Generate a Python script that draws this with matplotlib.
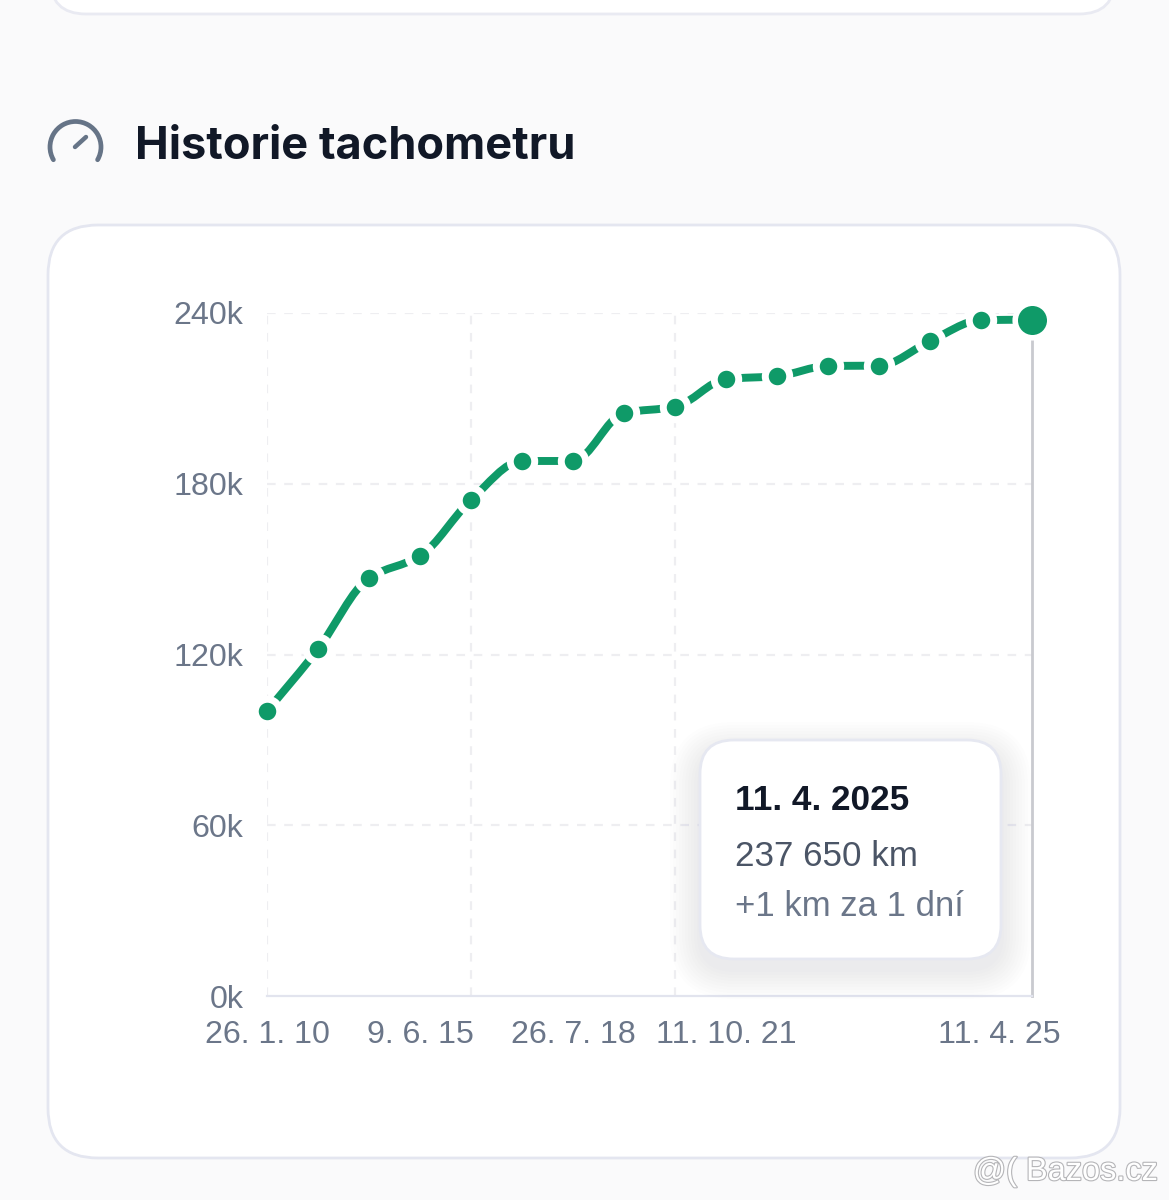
import matplotlib
matplotlib.use("Agg")
import matplotlib.pyplot as plt
import matplotlib.patheffects as pe
from matplotlib.patches import FancyBboxPatch, PathPatch, Arc
from matplotlib.path import Path
from matplotlib.transforms import ScaledTranslation
import numpy as np

# odometer readings in thousands of km
km = [100.1, 121.9, 146.9, 154.6, 174.3, 188.0, 188.0, 204.9, 207.0,
      216.8, 217.8, 221.4, 221.5, 230.1, 237.5, 237.65]
xlabels = ["26. 1. 10", "9. 6. 15", "26. 7. 18", "11. 10. 21", "11. 4. 25"]
xlabel_pos = [0, 3, 6, 9, 15]
xgrid = [0, 4, 8]
yticks = [0, 60, 120, 180, 240]
ylabels = ["0k", "60k", "120k", "180k", "240k"]

W, H = 1169, 1200
GREEN = "#0f9a68"
GREY = "#6b7689"
NAVY = "#111827"
SANS = "Liberation Sans"

plt.rcParams["lines.scale_dashes"] = False


def monotone_path(xs, ys):
    # same curve the web chart uses (monotone cubic between the readings)
    xs = np.asarray(xs, float)
    ys = np.asarray(ys, float)
    s = np.diff(ys) / np.diff(xs)
    t = np.zeros(len(ys))
    for i in range(1, len(ys) - 1):
        if s[i - 1] * s[i] > 0:
            t[i] = 2 * s[i - 1] * s[i] / (s[i - 1] + s[i])
    t[0] = s[0]
    t[-1] = s[-1]
    verts = [(xs[0], ys[0])]
    codes = [Path.MOVETO]
    for i in range(len(xs) - 1):
        h = (xs[i + 1] - xs[i]) / 3
        verts += [(xs[i] + h, ys[i] + t[i] * h),
                  (xs[i + 1] - h, ys[i + 1] - t[i + 1] * h),
                  (xs[i + 1], ys[i + 1])]
        codes += [Path.CURVE4, Path.CURVE4, Path.CURVE4]
    return Path(verts, codes)


fig = plt.figure(figsize=(W / 100, H / 100), dpi=100, facecolor="#fafafb")

# page layer in pixel coordinates, y going down
bg = fig.add_axes([0, 0, 1, 1], zorder=0)
bg.set_xlim(0, W)
bg.set_ylim(H, 0)
bg.axis("off")

bg.add_patch(FancyBboxPatch((50, -100), 1065, 114, boxstyle="round,pad=0,rounding_size=36",
                            fc="white", ec="#e9eaf2", lw=2))
bg.add_patch(FancyBboxPatch((48, 225), 1072, 933, boxstyle="round,pad=0,rounding_size=50",
                            fc="white", ec="#e4e6f0", lw=2))

# gauge icon, y axis is flipped so 270 is the top of the circle
bg.add_patch(Arc((75.5, 147), 51, 51, theta1=150, theta2=390, color="#667487",
                 lw=3.4, capstyle="round"))
bg.plot([75, 86], [147, 137], color="#667487", lw=3.2, solid_capstyle="round")

bg.text(135, 147, "Historie tachometru", fontsize=32.5, fontweight="bold", family="Inter",
        color=NAVY, va="center", ha="left")

# chart
ax = fig.add_axes([267 / W, (H - 996) / H, (1032 - 267) / W, (996 - 313) / H], zorder=1)
ax.patch.set_alpha(0)
x = np.arange(len(km))
ax.set_xlim(0, len(km) - 1)
ax.set_ylim(0, 240)
for s in ["top", "right", "left"]:
    ax.spines[s].set_visible(False)
ax.spines["bottom"].set_color("#e2e4ee")
ax.spines["bottom"].set_linewidth(1.6)

dash = (0, (6.2, 6.2))
ax.grid(False)
for v in yticks[1:]:
    ax.axhline(v, color="#eeeef1", lw=1.6, linestyle=dash, zorder=1)
for v in xgrid:
    ax.axvline(v, color="#eeeef1", lw=1.6, linestyle=dash, zorder=1)

ax.set_yticks(yticks)
ax.set_yticklabels(ylabels, fontsize=23.1, family=SANS, color=GREY)
ax.set_xticks(xlabel_pos)
ax.set_xticklabels(xlabels, fontsize=23.1, family=SANS, color=GREY)
ax.tick_params(axis="both", length=0)
ax.tick_params(axis="y", pad=17)
ax.tick_params(axis="x", pad=17)
# last date is pushed inwards so it stays in the card
last = ax.get_xticklabels()[-1]
last.set_transform(last.get_transform() + ScaledTranslation(-33 / 100, 0, fig.dpi_scale_trans))

ax.plot([x[-1], x[-1]], [0, km[-1]], color="#c9cacf", lw=2, zorder=2, clip_on=False)
ax.add_patch(PathPatch(monotone_path(x, km), fc="none", ec=GREEN, lw=5.7,
                       capstyle="butt", zorder=3, clip_on=False))
# wide white edge cuts the line off around each point
ax.plot(x[:-1], km[:-1], "o", color=GREEN, ms=17.6, mec="white", mew=5, zorder=4, clip_on=False)
ax.plot(x[-1:], km[-1:], "o", color=GREEN, ms=24.9, mec="white", mew=4, zorder=5, clip_on=False)

# tooltip on top of everything
top = fig.add_axes([0, 0, 1, 1], zorder=2)
top.set_xlim(0, W)
top.set_ylim(H, 0)
top.axis("off")
for grow in [30, 27, 24, 21, 18, 15, 12, 9, 6, 3]:
    top.add_patch(FancyBboxPatch((700 - grow, 752 - grow), 301 + 2 * grow, 217 + 2 * grow,
                                 boxstyle="round,pad=0,rounding_size=%d" % (34 + grow),
                                 fc="#3c4470", ec="none", alpha=0.0085))
top.add_patch(FancyBboxPatch((700, 740), 301, 219, boxstyle="round,pad=0,rounding_size=34",
                             fc="white", ec="#e6e8f1", lw=2))
top.text(735, 800, "11. 4. 2025", fontsize=25.3, fontweight="bold", family=SANS, color=NAVY,
         va="center", ha="left")
top.text(735, 856, "237 650 km", fontsize=25.2, family=SANS, color="#4b5566", va="center", ha="left")
top.text(735, 906, "+1 km za 1 dní", fontsize=25, family=SANS, color=GREY, va="center", ha="left")

# watermark, outlined letters
outline = [pe.withStroke(linewidth=1.6, foreground="#b5b5b8")]
m1 = top.text(973, 1172, "@(", fontsize=23.5, family=SANS, color="white", va="center", ha="left")
m2 = top.text(1026, 1172, "Bazos.cz", fontsize=23.4, family=SANS, color="white", va="center", ha="left")
m1.set_path_effects(outline)
m2.set_path_effects(outline)

fig.savefig("out.png", dpi=100, facecolor=fig.get_facecolor())
